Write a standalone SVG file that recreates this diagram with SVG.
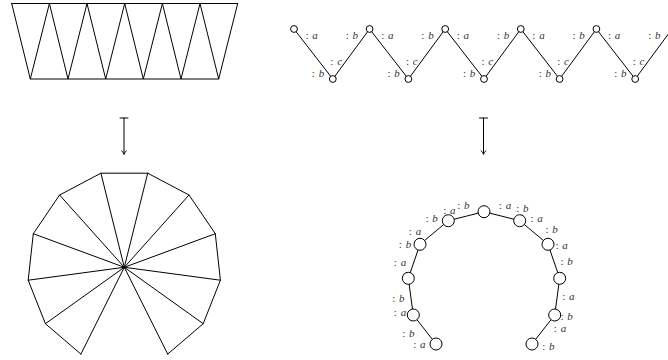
<svg xmlns="http://www.w3.org/2000/svg" width="668" height="360" viewBox="0 0 668 360">
<style>
.ln{fill:none;stroke:#000;stroke-width:1;stroke-linejoin:round;stroke-linecap:round}
.nd{fill:#fff;stroke:#000;stroke-width:1}
.lb{font-family:"Liberation Serif","DejaVu Serif",serif;font-size:11px;fill:#333;text-anchor:middle;word-spacing:1px}
.it{font-style:italic}
</style>
<rect width="668" height="360" fill="#fff"/>
<g id="trapezoid">
<path class="ln" d="M11.7 3.5 H237.7 M30.3 79 H218.7"/>
<polyline class="ln" points="11.7,3.5 30.3,79 49.4,3.5 68,79 87,3.5 105.7,79 124.7,3.5 143.3,79 162.4,3.5 181,79 200,3.5 218.7,79 237.7,3.5"/>
</g>
<g id="fan">
<polyline class="ln" points="80.9,354.1 45.4,323.7 28.2,280.2 33.3,233.7 59.6,195 100.9,173.2 147.7,173.2 189,195 215.3,233.7 220.4,280.2 203.2,323.7 167.7,354.1"/>
<path class="ln" d="M124.3 267.3 L80.9 354.1 M124.3 267.3 L45.4 323.7 M124.3 267.3 L28.2 280.2 M124.3 267.3 L33.3 233.7 M124.3 267.3 L59.6 195 M124.3 267.3 L100.9 173.2 M124.3 267.3 L147.7 173.2 M124.3 267.3 L189 195 M124.3 267.3 L215.3 233.7 M124.3 267.3 L220.4 280.2 M124.3 267.3 L203.2 323.7 M124.3 267.3 L167.7 354.1"/>
</g>
<g id="connectors">
<path class="ln" d="M124 118 V154 M120 118 H128 M121.6 150.8 Q123.6 152.3 124 154.3 Q124.4 152.3 126.4 150.8"/>
<path class="ln" d="M483.5 118 V154 M479.5 118 H487.5 M481.1 150.8 Q483.1 152.3 483.5 154.3 Q483.9 152.3 485.9 150.8"/>
<polyline class="ln" points="294,29 332.8,79 369.6,29 408.4,79 445.2,29 484,79 520.8,29 559.6,79 596.4,29 635.2,79 672,29"/>
<polyline class="ln" points="436,344 413.3,315 408.3,278.3 420,244.3 448.3,220.7 484,211.7 519.7,220.7 548,244.3 559.7,278.3 554.7,315 532,344"/>
</g>
<g id="chain-nodes">
<g id="z0"><circle class="nd" cx="294" cy="29" r="3.4"/></g>
<g id="z1"><circle class="nd" cx="332.8" cy="79" r="3.4"/></g>
<g id="z2"><circle class="nd" cx="369.6" cy="29" r="3.4"/></g>
<g id="z3"><circle class="nd" cx="408.4" cy="79" r="3.4"/></g>
<g id="z4"><circle class="nd" cx="445.2" cy="29" r="3.4"/></g>
<g id="z5"><circle class="nd" cx="484" cy="79" r="3.4"/></g>
<g id="z6"><circle class="nd" cx="520.8" cy="29" r="3.4"/></g>
<g id="z7"><circle class="nd" cx="559.6" cy="79" r="3.4"/></g>
<g id="z8"><circle class="nd" cx="596.4" cy="29" r="3.4"/></g>
<g id="z9"><circle class="nd" cx="635.2" cy="79" r="3.4"/></g>
<g id="z10"><circle class="nd" cx="672" cy="29" r="3.4"/></g>
</g>
<g id="chain-labels">
<text class="lb" x="311.7" y="39">: <tspan class="it">a</tspan></text>
<text class="lb" x="387.3" y="39">: <tspan class="it">a</tspan></text>
<text class="lb" x="462.9" y="39">: <tspan class="it">a</tspan></text>
<text class="lb" x="538.5" y="39">: <tspan class="it">a</tspan></text>
<text class="lb" x="614.1" y="39">: <tspan class="it">a</tspan></text>
<text class="lb" x="351.9" y="39">: <tspan class="it">b</tspan></text>
<text class="lb" x="427.5" y="39">: <tspan class="it">b</tspan></text>
<text class="lb" x="503.1" y="39">: <tspan class="it">b</tspan></text>
<text class="lb" x="578.7" y="39">: <tspan class="it">b</tspan></text>
<text class="lb" x="654.3" y="39">: <tspan class="it">b</tspan></text>
<text class="lb" x="336.2" y="64.5">: <tspan class="it">c</tspan></text>
<text class="lb" x="411.8" y="64.5">: <tspan class="it">c</tspan></text>
<text class="lb" x="487.4" y="64.5">: <tspan class="it">c</tspan></text>
<text class="lb" x="563" y="64.5">: <tspan class="it">c</tspan></text>
<text class="lb" x="638.6" y="64.5">: <tspan class="it">c</tspan></text>
<text class="lb" x="318" y="76.5">: <tspan class="it">b</tspan></text>
<text class="lb" x="393.6" y="76.5">: <tspan class="it">b</tspan></text>
<text class="lb" x="469.2" y="76.5">: <tspan class="it">b</tspan></text>
<text class="lb" x="544.8" y="76.5">: <tspan class="it">b</tspan></text>
<text class="lb" x="620.4" y="76.5">: <tspan class="it">b</tspan></text>
</g>
<g id="arc-nodes">
<g id="r0"><circle class="nd" cx="436" cy="344" r="6"/></g>
<g id="r1"><circle class="nd" cx="413.3" cy="315" r="6"/></g>
<g id="r2"><circle class="nd" cx="408.3" cy="278.3" r="6"/></g>
<g id="r3"><circle class="nd" cx="420" cy="244.3" r="6"/></g>
<g id="r4"><circle class="nd" cx="448.3" cy="220.7" r="6"/></g>
<g id="r5"><circle class="nd" cx="484" cy="211.7" r="6"/></g>
<g id="r6"><circle class="nd" cx="519.7" cy="220.7" r="6"/></g>
<g id="r7"><circle class="nd" cx="548" cy="244.3" r="6"/></g>
<g id="r8"><circle class="nd" cx="559.7" cy="278.3" r="6"/></g>
<g id="r9"><circle class="nd" cx="554.7" cy="315" r="6"/></g>
<g id="r10"><circle class="nd" cx="532" cy="344" r="6"/></g>
</g>
<g id="arc-labels">
<text class="lb" x="419.3" y="348">: <tspan class="it">a</tspan></text>
<text class="lb" x="408.3" y="336.5">: <tspan class="it">b</tspan></text>
<text class="lb" x="400" y="316.3">: <tspan class="it">a</tspan></text>
<text class="lb" x="398.3" y="301.5">: <tspan class="it">b</tspan></text>
<text class="lb" x="400" y="265.7">: <tspan class="it">a</tspan></text>
<text class="lb" x="405" y="248.2">: <tspan class="it">b</tspan></text>
<text class="lb" x="415" y="234.7">: <tspan class="it">a</tspan></text>
<text class="lb" x="431.7" y="221.5">: <tspan class="it">b</tspan></text>
<text class="lb" x="449.3" y="213.7">: <tspan class="it">a</tspan></text>
<text class="lb" x="463.3" y="209.2">: <tspan class="it">b</tspan></text>
<text class="lb" x="505" y="209">: <tspan class="it">a</tspan></text>
<text class="lb" x="522.3" y="211.5">: <tspan class="it">b</tspan></text>
<text class="lb" x="536.7" y="222.3">: <tspan class="it">a</tspan></text>
<text class="lb" x="551.7" y="233.2">: <tspan class="it">b</tspan></text>
<text class="lb" x="561.7" y="249">: <tspan class="it">a</tspan></text>
<text class="lb" x="566.7" y="264.9">: <tspan class="it">b</tspan></text>
<text class="lb" x="568.3" y="299.7">: <tspan class="it">a</tspan></text>
<text class="lb" x="566.7" y="319.9">: <tspan class="it">b</tspan></text>
<text class="lb" x="560" y="332.3">: <tspan class="it">a</tspan></text>
<text class="lb" x="548.3" y="349.9">: <tspan class="it">b</tspan></text>
</g>
</svg>
